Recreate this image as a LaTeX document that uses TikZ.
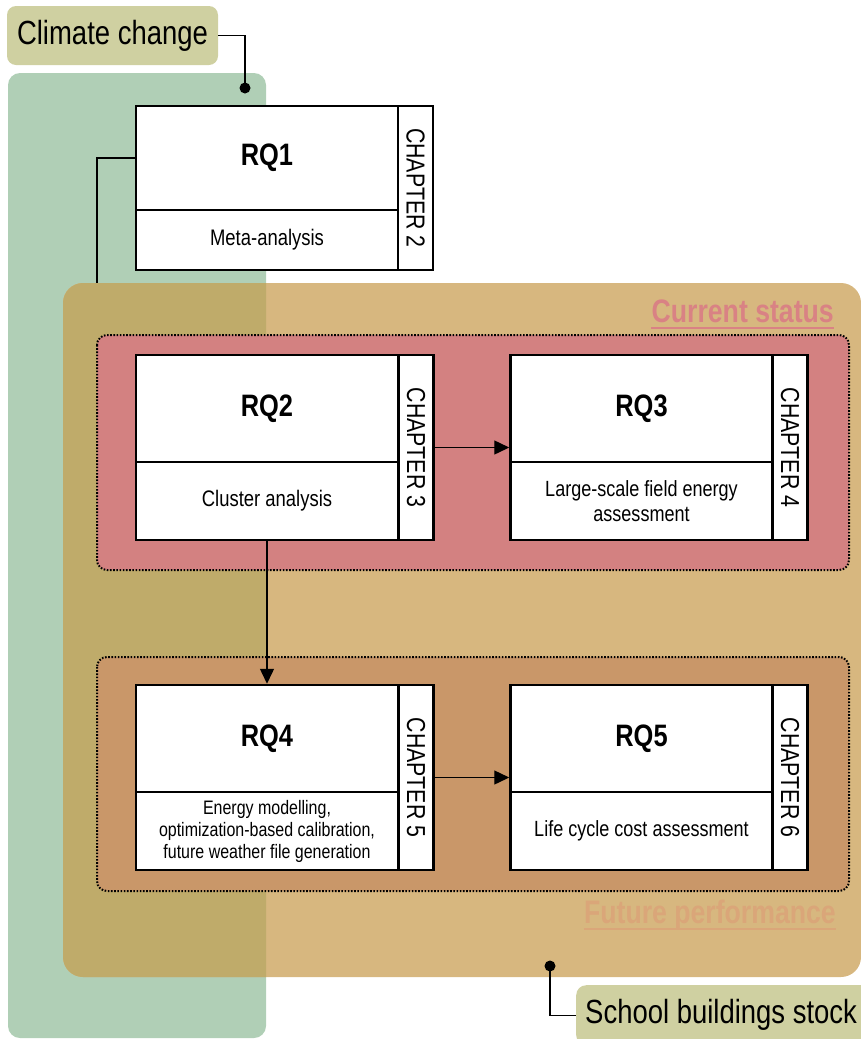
\documentclass[tikz,border=0pt]{standalone}
\usepackage{fontspec}
\setmainfont[FakeStretch=0.82]{Liberation Sans}
\usetikzlibrary{arrows.meta}

\definecolor{zoneGreen}{HTML}{B0CFB6}
\definecolor{zoneTan}{HTML}{D7B77F}
\definecolor{zoneMix}{HTML}{BFAB6A}
\definecolor{zoneRed}{HTML}{D38181}
\definecolor{zoneRedText}{HTML}{D98284}
\definecolor{zoneBrown}{HTML}{C99769}
\definecolor{zoneBrownText}{HTML}{DAA679}
\definecolor{tagFill}{HTML}{CFD0A1}

\tikzset{
  tagbox/.style={fill=tagFill, rounded corners=9pt, inner sep=0pt,
    font=\fontsize{33.5}{38}\selectfont},
  rqtop/.style={draw, fill=white, line width=2.5pt, minimum width=262pt,
    inner sep=0pt, font=\bfseries\fontsize{31}{36}\selectfont},
  rqbot/.style={draw, fill=white, line width=2.5pt, minimum width=262pt,
    inner sep=0pt, align=center},
  chapcol/.style={draw, fill=white, line width=2.5pt, rotate=-90,
    minimum height=35pt, inner sep=0pt, font=\fontsize{26}{30}\selectfont},
  link/.style={line width=1.4pt},
  arrowlink/.style={line width=1.4pt, -{Triangle[length=15pt,width=14pt]}},
  zonebox/.style={line width=2pt, dash pattern=on 1.6pt off 1.6pt,
    rounded corners=10pt},
  zonetitle/.style={anchor=base east, inner sep=0pt,
    font=\bfseries\fontsize{32.5}{36}\selectfont},
  dotmark/.style={fill, circle, inner sep=0pt, minimum size=11pt}
}

\begin{document}
\begin{tikzpicture}[x=1pt,y=-1pt]
\clip (0,0) rectangle (861,1039);
\useasboundingbox (0,0) rectangle (861,1039);

% background zones
\fill[zoneGreen, rounded corners=12pt] (8,73) rectangle (266,1038);
\fill[zoneTan, rounded corners=20pt] (63,283) rectangle (861,977);
\begin{scope}
  \clip[rounded corners=12pt] (8,73) rectangle (266,1038);
  \fill[zoneMix, rounded corners=20pt] (63,283) rectangle (861,977);
\end{scope}

% dotted phase boxes
\draw[zonebox, fill=zoneRed] (97,335) rectangle (849,570);
\draw[zonebox, fill=zoneBrown] (97,657) rectangle (849,891);

% phase titles
\node[zonetitle, text=zoneRedText] (cs) at (834,322) {Current status};
\draw[zoneRedText, line width=2.5pt] ([yshift=-6pt]cs.base west) -- ([yshift=-6pt]cs.base east);
\node[zonetitle, text=zoneBrownText] (fp) at (836,923) {Future performance};
\draw[zoneBrownText, line width=2.5pt] ([yshift=-6pt]fp.base west) -- ([yshift=-6pt]fp.base east);

% tags
\node[tagbox, minimum width=211pt, minimum height=59pt] (cc) at (112.5,35.5) {Climate change};
\coordinate (ccdot) at (245,88);
\draw[link] (cc.east) -| (ccdot);
\node[dotmark] at (ccdot) {};

\node[fill=tagFill, rounded corners=10pt, minimum width=320pt, minimum height=60pt,
  anchor=north west, inner sep=0pt] (sbbox) at (576,985) {};
\node[anchor=west, inner sep=0pt, font=\fontsize{33.5}{38}\selectfont] (sb) at (585,1015) {School buildings stock};
\coordinate (sbdot) at (550,966);
\draw[link] (sbdot) |- (sbbox.west);
\node[dotmark] at (sbdot) {};

% RQ1
\node[rqtop, minimum height=104pt] (rq1t) at (267,158) {RQ1};
\node[rqbot, minimum height=60pt, font=\fontsize{22.5}{26}\selectfont] (rq1b) at (267,240) {Meta-analysis};
\node[chapcol, minimum width=164pt] (ch2) at (415.5,188) {CHAPTER 2};
\coordinate (tantop) at (97,283);
\draw[link] (rq1t.west) -| (tantop);

% RQ2
\node[rqtop, minimum height=107pt] (rq2t) at (267,408.5) {RQ2};
\node[rqbot, minimum height=78pt, font=\fontsize{22.5}{26}\selectfont] (rq2b) at (267,501) {Cluster analysis};
\node[chapcol, minimum width=185pt] (ch3) at (416,447.5) {CHAPTER 3};

% RQ3
\node[rqtop, minimum height=107pt] (rq3t) at (641.5,408.5) {RQ3};
\node[rqbot, minimum height=78pt, font=\fontsize{22}{25.5}\selectfont] (rq3b) at (641.5,501) {Large-scale field energy\\assessment};
\node[chapcol, minimum width=185pt] (ch4) at (790,447.5) {CHAPTER 4};

% RQ4
\node[rqtop, minimum height=107pt] (rq4t) at (267,738.5) {RQ4};
\node[rqbot, minimum height=78pt, font=\fontsize{19.5}{22}\selectfont] (rq4b) at (267,831) {Energy modelling,\\optimization-based calibration,\\future weather file generation};
\node[chapcol, minimum width=185pt] (ch5) at (416,777.5) {CHAPTER 5};

% RQ5
\node[rqtop, minimum height=107pt] (rq5t) at (641.5,738.5) {RQ5};
\node[rqbot, minimum height=78pt, font=\fontsize{22}{25.5}\selectfont] (rq5b) at (641.5,831) {Life cycle cost assessment};
\node[chapcol, minimum width=185pt] (ch6) at (790,777.5) {CHAPTER 6};

% flow between research questions
\draw[arrowlink] (ch3) -- (ch3 -| rq3t.west);
\draw[arrowlink] (rq2b) -- (rq4t);
\draw[arrowlink] (ch5) -- (ch5 -| rq5t.west);
\end{tikzpicture}
\end{document}
